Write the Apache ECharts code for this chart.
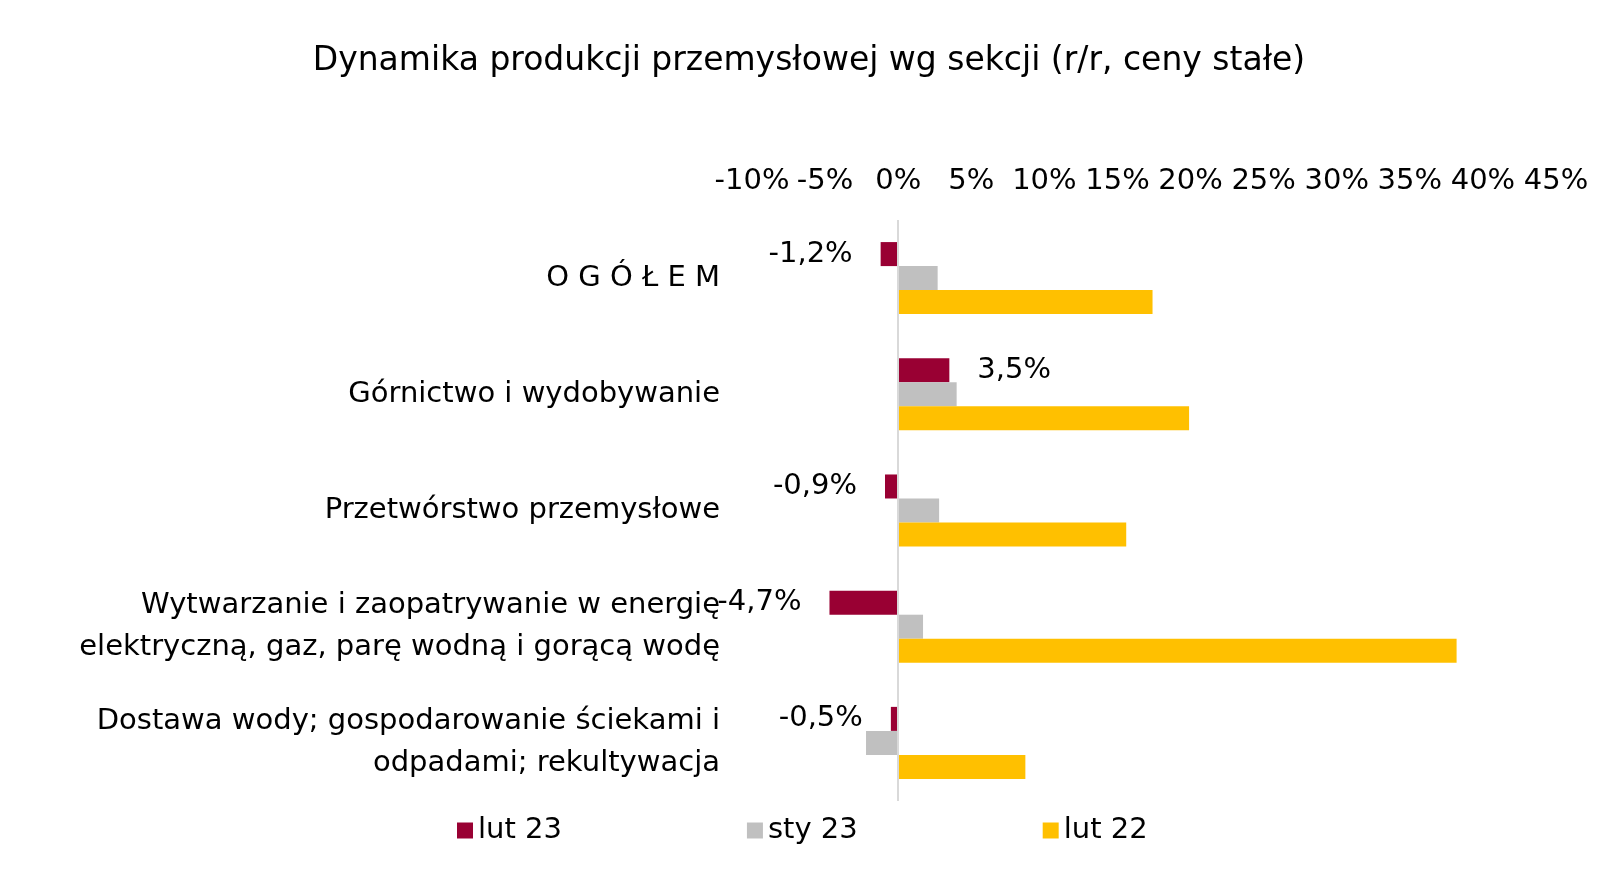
<!DOCTYPE html>
<html><head><meta charset="utf-8">
<script src="https://cdn.jsdelivr.net/npm/echarts@6/dist/echarts.min.js"></script>
<style>html,body{margin:0;padding:0;background:#fff}#c{width:1618px;height:892px}</style>
</head><body><div id="c"></div>
<script>
const categories = ["O G Ó Ł E M", "Górnictwo i wydobywanie", "Przetwórstwo przemysłowe", "Wytwarzanie i zaopatrywanie w energię\nelektryczną, gaz, parę wodną i gorącą wodę", "Dostawa wody; gospodarowanie ściekami i\nodpadami; rekultywacja"];
const lut23 = [-1.2, 3.5, -0.9, -4.7, -0.5];
const sty23 = [2.7, 4.0, 2.8, 1.7, -2.2];
const lut22 = [17.4, 19.9, 15.6, 38.2, 8.7];
const font = "DejaVu Sans";
const chart = echarts.init(document.getElementById('c'));
chart.setOption({
  textStyle:{fontFamily:font},
  title:{text:"Dynamika produkcji przemysłowej wg sekcji (r/r, ceny stałe)",left:'center',top:40,
    textStyle:{fontFamily:font,fontSize:33,fontWeight:'normal',color:'#000'}},
  legend:{bottom:42,left:452,itemGap:185,itemWidth:16,itemHeight:16,icon:'rect',
    textStyle:{fontFamily:font,fontSize:29,color:'#000'},data:['lut 23','sty 23','lut 22']},
  grid:{left:752,right:62,top:220,bottom:91},
  xAxis:{type:'value',position:'top',min:-10,max:45,interval:5,
    axisLine:{show:false},axisTick:{show:false},splitLine:{show:false},
    axisLabel:{formatter:'{value}%',fontSize:29,color:'#000',fontFamily:font,margin:24}},
  yAxis:{type:'category',inverse:true,data:categories,axisLine:{show:false},axisTick:{show:false},
    axisLabel:{fontSize:29,color:'#000',fontFamily:font,margin:32,align:'right',lineHeight:42}},
  series:[
    {name:'lut 23',type:'bar',itemStyle:{color:'#990033'},barCategoryGap:'38%',barGap:'0%',
     data:lut23.map(v=>({value:v,label:{position:v<0?'left':'right'}})),
     label:{show:true,fontSize:29,color:'#000',fontFamily:font,distance:28,
       formatter:p=>String(p.value).replace('.',',')+'%'},
     markLine:{silent:true,symbol:'none',label:{show:false},lineStyle:{color:'#d9d9d9',width:2,type:'solid'},data:[{xAxis:0}]}},
    {name:'sty 23',type:'bar',data:sty23,itemStyle:{color:'#c0c0c0'}},
    {name:'lut 22',type:'bar',data:lut22,itemStyle:{color:'#ffc000'}}
  ]
});
</script></body></html>
